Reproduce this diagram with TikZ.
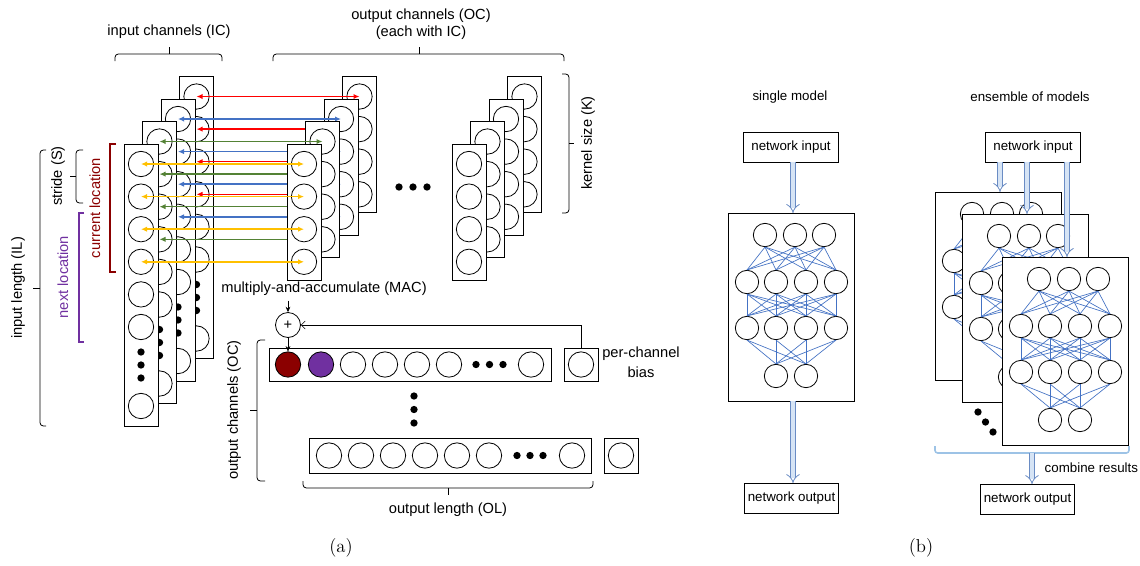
\documentclass[tikz,border=0pt]{standalone}
\usepackage{fontspec}
\newfontfamily\arialfont{Liberation Sans}
\usetikzlibrary{arrows.meta}

\definecolor{chyellow}{HTML}{FFC000}
\definecolor{chgreen}{HTML}{548235}
\definecolor{chblue}{HTML}{4472C4}
\definecolor{chred}{HTML}{FF0000}
\definecolor{curred}{HTML}{8B0000}
\definecolor{nextpurple}{HTML}{7030A0}
\definecolor{linkblue}{HTML}{4472C4}
\definecolor{arrowedge}{HTML}{6A8CC4}
\definecolor{arrowfill}{HTML}{D6E4F5}
\definecolor{combblue}{HTML}{9DC3E6}

\newcommand\lfont{\arialfont\fontsize{11}{13}\selectfont}
\newcommand\rfont{\arialfont\fontsize{10}{12}\selectfont}

\tikzset{
	cell/.style={circle,draw,fill=white,line width=0.6pt,minimum size=19pt,inner sep=0pt},
	neuron/.style={circle,draw,fill=white,line width=0.6pt,minimum size=17.5pt,inner sep=0pt},
	dotmark/.style={circle,fill=black,minimum size=5.5pt,inner sep=0pt},
	colbox/.style={draw,fill=white,line width=0.6pt},
	bracket/.style={line width=0.6pt,rounded corners=2.5pt},
	chan/.style={{Latex[length=4.5pt,width=4pt]}-{Latex[length=4.5pt,width=4pt]},line width=1.1pt},
	link/.style={draw=linkblue,line width=0.5pt},
	hollow/.style={draw=arrowedge,double=arrowfill,double distance=3pt,line width=0.6pt,-{Implies}},
	netio/.style={draw,fill=white,line width=0.6pt,font=\rfont,minimum width=71pt,minimum height=22.5pt,inner sep=0pt},
	biasbox/.style={draw,fill=white,line width=0.6pt,minimum width=25.5pt,minimum height=24.75pt,inner sep=0pt}
}

% one network: #1,#2 top left corner, #3 name
\newcommand\drawnet[3]{%
	\begin{scope}[shift={(#1,#2)}]
		\draw[colbox] (0,0) rectangle (126,188);
		\coordinate (#3-top) at (65,0);
		\coordinate (#3-bot) at (65,188);
		\foreach \x [count=\i] in {37,67,96}
			\node[neuron] (#3-1-\i) at (\x,22) {};
		\foreach \x [count=\i] in {19,48,78,108}{
			\node[neuron] (#3-2-\i) at (\x,69) {};
			\node[neuron] (#3-3-\i) at (\x,115) {};
		}
		\foreach \x [count=\i] in {48,78}
			\node[neuron] (#3-4-\i) at (\x,163) {};
		% links
		\foreach \i in {1,2,3}
			\foreach \j in {1,...,4}
				\draw[link] (#3-1-\i.south) -- (#3-2-\j.north);
		\foreach \i in {1,...,4}
			\foreach \j in {1,...,4}
				\draw[link] (#3-2-\i.south) -- (#3-3-\j.north);
		\foreach \i in {1,...,4}
			\foreach \j in {1,2}
				\draw[link] (#3-3-\i.south) -- (#3-4-\j.north);
	\end{scope}}

\begin{document}
\begin{tikzpicture}[x=0.75pt,y=-0.75pt]
	\useasboundingbox (0,0) rectangle (1140,565);
	
	% Input channels (back to front)
	\foreach \k in {3,2,1,0}{
		\pgfmathsetmacro\cx{141+18.5*\k}
		\pgfmathsetmacro\ct{144-22.5*\k}
		\draw[colbox] (\cx-17,\ct) rectangle (\cx+17,\ct+282);
		\foreach \j in {0,...,5}
			\node[cell] (in-\k-\j) at (\cx,\ct+20+32.6*\j) {};
		\foreach \d in {208,221,234}
			\node[dotmark] at (\cx,\ct+\d) {};
		\node[cell] (in-\k-last) at (\cx,\ct+262) {};
	}
	
	% Kernels of the first output channel, with their arrows
	\foreach \k/\c in {3/chred,2/chblue,1/chgreen,0/chyellow}{
		\pgfmathsetmacro\kx{304+18.5*\k}
		\pgfmathsetmacro\kt{144-22.5*\k}
		\draw[colbox] (\kx-17,\kt) rectangle (\kx+17,\kt+136);
		\foreach \j in {0,...,3}
			\node[cell] (ker-\k-\j) at (\kx,\kt+20+32.6*\j) {};
		\foreach \j in {0,...,3}
			\draw[chan,draw=\c,fill=\c] (in-\k-\j.center) -- (ker-\k-\j.center);
	}
	
	% Kernels of the last output channel
	\foreach \k in {3,2,1,0}{
		\pgfmathsetmacro\kx{469+18.5*\k}
		\pgfmathsetmacro\kt{144-22.5*\k}
		\draw[colbox] (\kx-17,\kt) rectangle (\kx+17,\kt+136);
		\foreach \j in {0,...,3}
			\node[cell] (last-\k-\j) at (\kx,\kt+20+32.6*\j) {};
	}
	\foreach \x in {399,413,427}
		\node[dotmark] at (\x,187) {};
	
	% Brackets and labels
	\draw[bracket] (115,61) |- (222,54) -- (222,61);
	\draw[line width=0.6pt] (169,54) -- (169,47);
	\node[font=\lfont] at (169,32) {input channels (IC)};
	\draw[bracket] (273,61) |- (564,54) -- (564,61);
	\draw[line width=0.6pt] (419,54) -- (419,47);
	\node[font=\lfont,align=center] at (421,24) {output channels (OC)\\(each with IC)};
	\draw[bracket] (562,74) -| (569,213) -- (562,213);
	\draw[line width=0.6pt] (569,143) -- (574,143);
	\node[font=\lfont,rotate=90] at (588,143) {kernel size (K)};
	\draw[bracket] (46,150) -| (40,426) -- (46,426);
	\draw[line width=0.6pt] (40,288) -- (33,288);
	\node[font=\lfont,rotate=90] at (18,288) {input length (IL)};
	\draw[bracket] (83,150) -| (76,203) -- (83,203);
	\draw[line width=0.6pt] (76,176.5) -- (70,176.5);
	\node[font=\lfont,rotate=90] at (58,176) {stride (S)};
	
	% Locations
	\draw[curred,line width=1.5pt] (116,144) -- (110,144) -- (110,272) -- (116,272);
	\node[font=\lfont,rotate=90,text=curred] at (95,208) {current location};
	\draw[nextpurple,line width=1.5pt] (84,213) -- (79,213) -- (79,342) -- (84,342);
	\node[font=\lfont,rotate=90,text=nextpurple] at (63,277) {next location};
	
	% Multiply-and-accumulate
	\node[font=\lfont] (mac) at (324,289) {multiply-and-accumulate (MAC)};
	\node[cell,minimum size=18.75pt,font=\lfont] (plus) at (288,325) {+};
	
	% Output rows
	\draw[colbox] (269,348) rectangle (551,381);
	\node[cell,fill=curred] (oa-1) at (288,364.5) {};
	\node[cell,fill=nextpurple] (oa-2) at (321,364.5) {};
	\foreach \x [count=\i from 3] in {353,385,417,449,531}
		\node[cell] (oa-\i) at (\x,364.5) {};
	\foreach \x in {476,489.5,503}
		\node[dotmark] at (\x,364.5) {};
	\node[biasbox] (bias-a) at (581,364.5) {};
	\node[cell] at (bias-a) {};
	\node[font=\arialfont\fontsize{11}{15}\selectfont,align=center] at (641,362) {per-channel\\bias};
	
	\foreach \y in {396,409.5,423}
		\node[dotmark] at (414,\y) {};
	
	\draw[colbox] (309,438) rectangle (591,473);
	\foreach \x [count=\i] in {329,361,393,425,457,489,572}
		\node[cell] (ob-\i) at (\x,455.5) {};
	\foreach \x in {517,530,543}
		\node[dotmark] at (\x,455.5) {};
	\node[biasbox,minimum height=26.25pt] (bias-b) at (621,455.5) {};
	\node[cell] at (bias-b) {};
	
	\draw[-{Stealth[length=4pt,width=3.5pt]}] (mac.south -| plus) -- (plus);
	\draw[-{Stealth[length=4pt,width=3.5pt]}] (plus) -- (oa-1);
	\draw[-{Straight Barb[length=3pt,width=6pt]}] (bias-a.north) |- (plus.east);
	
	\draw[bracket] (265,340) -| (257,481) -- (265,481);
	\draw[line width=0.6pt] (257,410.5) -- (250,410.5);
	\node[font=\lfont,rotate=90] at (234,410) {output channels (OC)};
	\draw[bracket] (303,481) |- (593,488) -- (593,481);
	\draw[line width=0.6pt] (448,488) -- (448,495);
	\node[font=\lfont] at (448,510) {output length (OL)};
	
	\node[font=\fontsize{14}{16}\selectfont] at (341,548) {(a)};
	
	% Single model
	\node[font=\rfont] at (790,97) {single model};
	\node[netio] (sin) at (791,147) {network input};
	\drawnet{728}{213}{s}
	\node[netio] (sout) at (791.5,498.5) {network output};
	\draw[hollow] (sin.south -| s-top) -- (s-top);
	\draw[hollow] (s-bot) -- (s-bot |- sout.north);
	
	% Ensemble of models
	\node[font=\rfont] at (1030,97) {ensemble of models};
	\node[netio] (ein) at (1033,147) {network input};
	\drawnet{935}{192}{ea}
	\drawnet{962}{214}{eb}
	\drawnet{1002}{257}{ec}
	\draw[hollow] (ein.south -| ea-top) -- (ea-top);
	\draw[hollow] (ein.south -| eb-top) -- (eb-top);
	\draw[hollow] (ein.south -| ec-top) -- (ec-top);
	\foreach \x/\y in {978/412,985.5/422,993/432}
		\node[dotmark] at (\x,\y) {};
	
	\draw[combblue,line width=1.2pt,rounded corners=2pt] (935,446) -- (935,453) -- (1129,453) -- (1129,446);
	\coordinate (comb) at (1032,453);
	\node[netio] (eout) at (1027.5,499.5) {network output};
	\draw[hollow] (comb) -- (comb |- eout.north);
	\node[font=\rfont,anchor=west] at (1040,468) {combine results};
	
	\node[font=\fontsize{14}{16}\selectfont] at (921,548) {(b)};
\end{tikzpicture}
\end{document}
